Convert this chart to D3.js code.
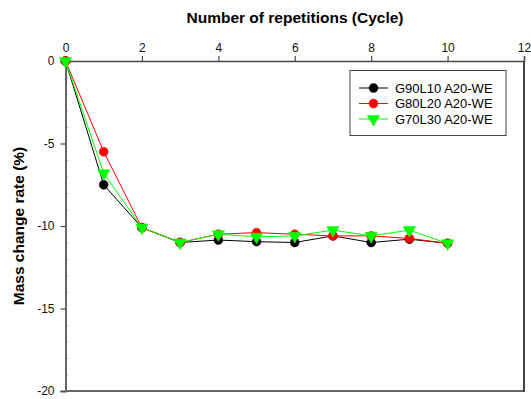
<!DOCTYPE html>
<html>
<head>
<meta charset="utf-8">
<script src="https://cdn.jsdelivr.net/npm/d3@7"></script>
<style>
  html, body { margin: 0; padding: 0; background: #fff; }
  svg { display: block; font-family: "Liberation Sans", Arial, sans-serif; }
</style>
</head>
<body>
<svg id="chart" width="531" height="399"></svg>
<script>
// Cycle numbers and mass change (%) for each mix
const cycles = [0, 1, 2, 3, 4, 5, 6, 7, 8, 9, 10];
const g90l10 = [0, -7.5, -10.1, -11.0, -10.85, -10.95, -11.0, -10.6, -11.0, -10.8, -11.05];
const g80l20 = [0, -5.5, -10.1, -11.0, -10.5, -10.4, -10.5, -10.6, -10.6, -10.75, -11.05];
const g70l30 = [0, -6.8, -10.1, -11.0, -10.5, -10.65, -10.6, -10.25, -10.6, -10.25, -11.05];
const seriesNames = ["G90L10 A20-WE", "G80L20 A20-WE", "G70L30 A20-WE"];
const xTicks = [0, 2, 4, 6, 8, 10, 12];
const yTicks = [0, -5, -10, -15, -20];

const series = [
  { name: seriesNames[0], values: g90l10, color: "#000000", marker: "circle" },
  { name: seriesNames[1], values: g80l20, color: "#ff0000", marker: "circle" },
  { name: seriesNames[2], values: g70l30, color: "#00ff00", marker: "triangle" }
];

const svg = d3.select("#chart");
const plotLeft = 65.5, plotRight = 524, plotTop = 61, plotBottom = 391;

const x = d3.scaleLinear().domain([0, 12]).range([plotLeft, plotRight]);
const y = d3.scaleLinear().domain([0, -20]).range([plotTop, plotBottom]);

const axisColor = "#4a4a4a";
const plainNum = d => String(d);   // hyphen-minus, as printed on the axis

// Frame: bottom and right edges
svg.append("line").attr("x1", plotLeft).attr("x2", plotRight).attr("y1", plotBottom).attr("y2", plotBottom)
  .attr("stroke", "#666").attr("stroke-width", 2);
svg.append("line").attr("x1", plotRight).attr("x2", plotRight).attr("y1", plotTop).attr("y2", plotBottom + 1)
  .attr("stroke", "#444").attr("stroke-width", 2);

// Top axis
const xAxis = d3.axisTop(x).tickValues(xTicks).tickSize(5).tickPadding(4).tickFormat(plainNum);
const gx = svg.append("g").attr("transform", `translate(0,${plotTop})`).call(xAxis);
gx.select(".domain").attr("stroke", axisColor).attr("stroke-width", 1.5);
gx.selectAll(".tick line").attr("stroke", axisColor).attr("stroke-width", 1.2);
gx.selectAll(".tick text").attr("font-size", 12).attr("fill", "#111")
  .attr("font-family", "Liberation Sans, Arial, sans-serif");

// Left axis: major ticks outside, minor ticks inside
const yMinor = d3.range(0, -21, -1).filter(v => v % 5 !== 0);
const gym = svg.append("g").attr("transform", `translate(${plotLeft},0)`)
  .call(d3.axisRight(y).tickValues(yMinor).tickSize(2).tickFormat(""));
gym.select(".domain").remove();
gym.selectAll(".tick line").attr("stroke", axisColor).attr("stroke-width", 1);

const yAxis = d3.axisLeft(y).tickValues(yTicks).tickSize(5).tickPadding(6).tickFormat(plainNum);
const gy = svg.append("g").attr("transform", `translate(${plotLeft},0)`).call(yAxis);
gy.select(".domain").attr("stroke", "#666").attr("stroke-width", 2);
gy.selectAll(".tick line").attr("stroke", axisColor).attr("stroke-width", 1.2);
gy.selectAll(".tick text").attr("font-size", 12).attr("fill", "#111")
  .attr("font-family", "Liberation Sans, Arial, sans-serif");

// Axis titles
svg.append("text").attr("x", 295).attr("y", 23).attr("text-anchor", "middle")
  .attr("font-size", 15.5).attr("font-weight", "bold").attr("fill", "#000")
  .text("Number of repetitions (Cycle)");
svg.append("text").attr("transform", `translate(23.5,${(plotTop + plotBottom) / 2}) rotate(-90)`)
  .attr("text-anchor", "middle").attr("font-size", 15.5).attr("font-weight", "bold").attr("fill", "#000")
  .text("Mass change rate (%)");

// Marker builder
const circleSym = d3.symbol().type(d3.symbolCircle).size(62);
const triSym = d3.symbol().type(d3.symbolTriangle).size(66);
function drawMarker(g, s, cx, cy) {
  if (s.marker === "circle") {
    g.append("path").attr("d", circleSym()).attr("transform", `translate(${cx},${cy})`)
      .attr("fill", s.color).attr("stroke", s.color).attr("stroke-width", 0.5);
  } else {
    g.append("path").attr("d", triSym()).attr("transform", `translate(${cx},${cy}) rotate(180)`)
      .attr("fill", s.color).attr("stroke", s.color).attr("stroke-width", 0.5);
  }
}

// Series lines and markers
const line = d3.line().x(d => x(d[0])).y(d => y(d[1]));
series.forEach(s => {
  const pts = cycles.map((c, i) => [c, s.values[i]]);
  const g = svg.append("g");
  g.append("path").attr("d", line(pts)).attr("fill", "none")
    .attr("stroke", s.color).attr("stroke-width", 1);
  pts.forEach(p => drawMarker(g, s, x(p[0]), y(p[1])));
});

// Legend
const lg = svg.append("g");
lg.append("rect").attr("x", 350).attr("y", 70.5).attr("width", 156).attr("height", 65)
  .attr("fill", "#fff").attr("stroke", "#444").attr("stroke-width", 1);
series.forEach((s, i) => {
  const ly = 88 + i * 15.5;
  lg.append("line").attr("x1", 359).attr("x2", 388).attr("y1", ly).attr("y2", ly)
    .attr("stroke", s.color).attr("stroke-width", 1);
  drawMarker(lg, s, 373.5, ly);
  lg.append("text").attr("x", 395).attr("y", ly + 4.5).attr("font-size", 13).attr("fill", "#000")
    .text(s.name);
});
</script>
</body>
</html>
